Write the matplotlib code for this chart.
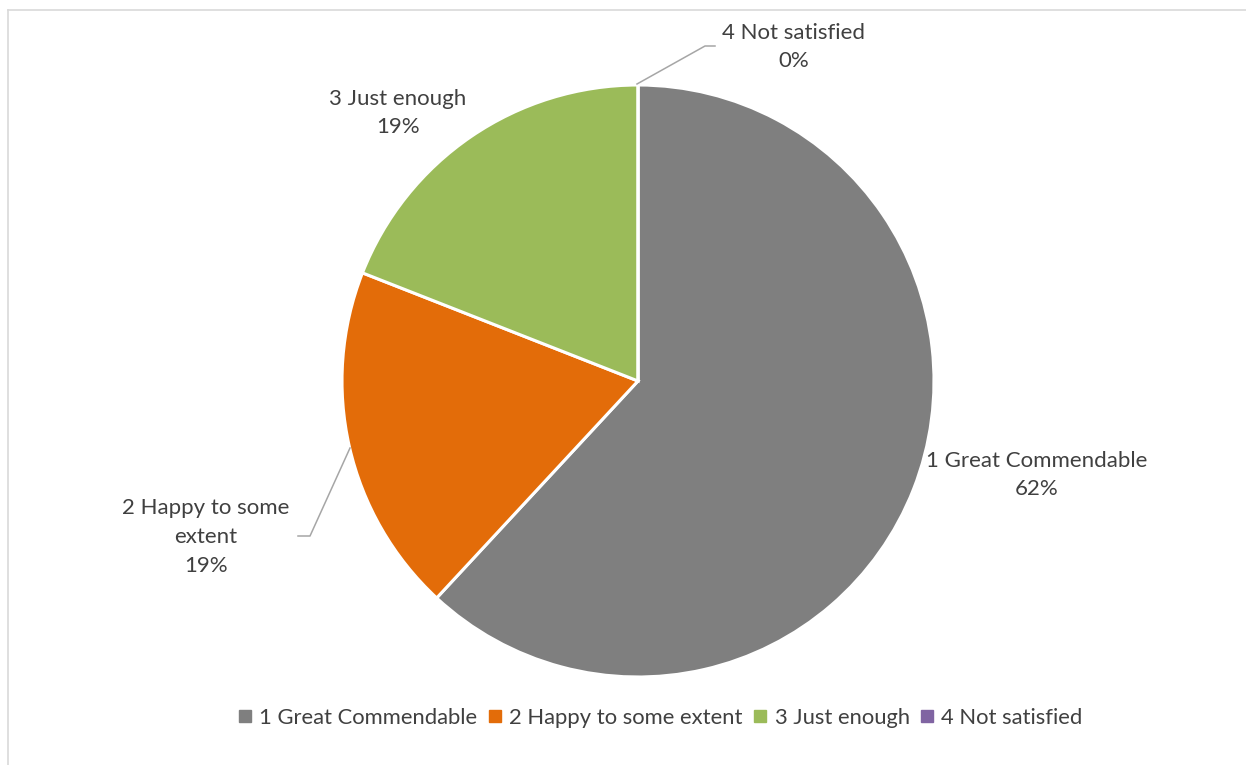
import matplotlib.pyplot as plt
from matplotlib.lines import Line2D

plt.rcParams['font.family'] = ['Lato', 'DejaVu Sans']

# data
categories = ['1 Great Commendable', '2 Happy to some extent', '3 Just enough', '4 Not satisfied']
counts = [13, 4, 4, 0]
colors = ['#7f7f7f', '#e36c09', '#9bbb59', '#8064a2']
label_texts = ['1 Great Commendable', '2 Happy to some\nextent', '3 Just enough', '4 Not satisfied']

W, H = 1246, 765
fig = plt.figure(figsize=(W / 100, H / 100), dpi=100)

# pie centre and radius in pixels
cx, cy, r = 638, 381, 296
ax = fig.add_axes([(cx - r) / W, (H - cy - r) / H, 2 * r / W, 2 * r / H])

ax.pie(counts, colors=colors, startangle=90, counterclock=False, radius=1,
       wedgeprops=dict(edgecolor='white', linewidth=2.2))
ax.set_xlim(-1, 1)
ax.set_ylim(-1, 1)
ax.set_aspect('equal')
ax.axis('off')


def px(x, y):
    return (x - cx) / r, (cy - y) / r


total = sum(counts)
pcts = [round(100 * c / total) for c in counts]
label_pos = [(1037, 475), (206, 537), (398, 113), (794, 47)]
for txt, p, (lx, ly) in zip(label_texts, pcts, label_pos):
    x, y = px(lx, ly)
    ax.text(x, y, f'{txt}\n{p}%', ha='center', va='center', fontsize=16,
            color='#404040', linespacing=1.55, clip_on=False)

# leader lines
leaders = [[(637, 84), (705, 46), (715, 46)],
           [(350, 448), (310, 536), (298, 536)]]
for pts in leaders:
    xs, ys = zip(*[px(a, b) for a, b in pts])
    ax.plot(xs, ys, color='#a6a6a6', lw=1.1, clip_on=False)

handles = [Line2D([0], [0], marker='s', linestyle='none', markersize=9,
                  markerfacecolor=c, markeredgecolor=c) for c in colors]
fig.legend(handles, categories, loc='center', bbox_to_anchor=(660 / W, 1 - 718 / H),
           ncol=4, frameon=False, fontsize=15.8, handlelength=0.7, handletextpad=0.3,
           columnspacing=0.45, labelcolor='#404040')

# chart border
fig.add_artist(Line2D([8 / W, 1], [1 - 10 / H, 1 - 10 / H], color='#d9d9d9', lw=1.2))
fig.add_artist(Line2D([8 / W, 8 / W], [0, 1 - 10 / H], color='#d9d9d9', lw=1.2))

fig.savefig('out.png', dpi=100, facecolor='white')
